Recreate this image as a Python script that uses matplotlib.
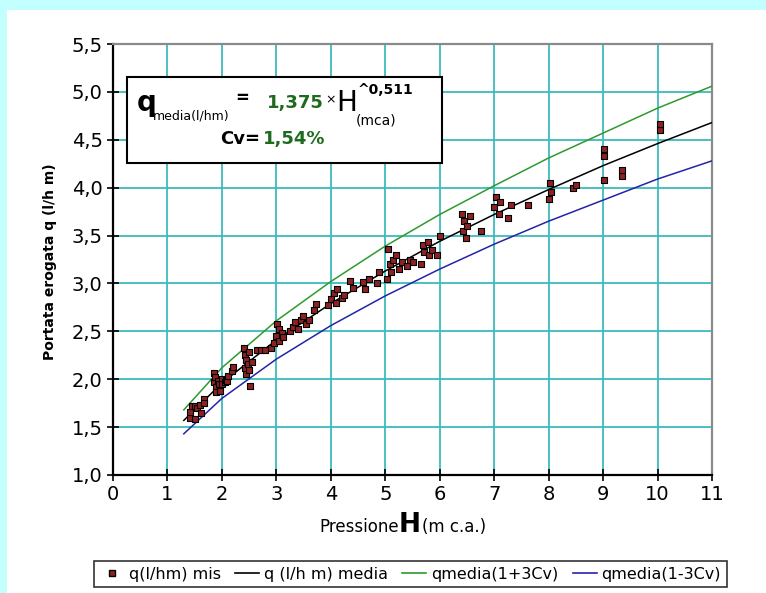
import matplotlib
matplotlib.use("Agg")
import matplotlib.pyplot as plt
from matplotlib.patches import Rectangle
from matplotlib.lines import Line2D

plt.rcParams['font.family'] = ['DejaVu Sans']

# measured points: pressure H (m c.a.) and flow q (l/h m)
H_mis = [1.42, 1.42, 1.45, 1.50, 1.50, 1.55, 1.60, 1.62, 1.67, 1.68,
         1.85, 1.85, 1.87, 1.90, 1.90, 1.92, 1.95, 1.97, 2.00, 2.00, 2.05, 2.07, 2.10, 2.12, 2.18, 2.20,
         2.40, 2.42, 2.42, 2.45, 2.45, 2.48, 2.50, 2.50, 2.52, 2.55,
         2.65, 2.72, 2.80, 2.90, 2.95, 3.00, 3.02, 3.05, 3.05, 3.10, 3.12,
         3.25, 3.30, 3.35, 3.40, 3.45, 3.48, 3.55, 3.60, 3.70, 3.72,
         3.95, 4.00, 4.05, 4.10, 4.12, 4.20, 4.25, 4.35, 4.40, 4.60, 4.62, 4.70, 4.85, 4.88,
         5.03, 5.05, 5.08, 5.10, 5.15, 5.20, 5.25, 5.30, 5.40, 5.45, 5.50,
         5.65, 5.70, 5.72, 5.78, 5.80, 5.85, 5.95, 6.00,
         6.40, 6.42, 6.45, 6.48, 6.50, 6.55, 6.75,
         7.00, 7.03, 7.08, 7.10, 7.25, 7.30, 7.62,
         8.00, 8.02, 8.05, 8.45, 8.50,
         9.02, 9.02, 9.02, 9.35, 9.35, 10.05, 10.05]
q_mis = [1.60, 1.66, 1.72, 1.58, 1.72, 1.70, 1.73, 1.65, 1.79, 1.75,
         2.07, 1.97, 2.02, 1.92, 1.87, 1.98, 1.95, 1.88, 2.00, 1.95, 1.97, 1.99, 1.98, 2.03, 2.09, 2.13,
         2.33, 2.25, 2.12, 2.20, 2.05, 2.16, 2.28, 2.10, 1.93, 2.18,
         2.30, 2.30, 2.31, 2.33, 2.38, 2.45, 2.58, 2.52, 2.40, 2.48, 2.44,
         2.50, 2.55, 2.60, 2.52, 2.62, 2.66, 2.58, 2.62, 2.72, 2.79,
         2.78, 2.84, 2.90, 2.80, 2.94, 2.85, 2.88, 3.03, 2.95, 3.02, 2.94, 3.05, 3.00, 3.12,
         3.05, 3.36, 3.20, 3.12, 3.25, 3.30, 3.15, 3.22, 3.18, 3.25, 3.22,
         3.20, 3.40, 3.33, 3.43, 3.30, 3.35, 3.30, 3.50,
         3.72, 3.55, 3.65, 3.47, 3.60, 3.70, 3.55,
         3.80, 3.90, 3.72, 3.85, 3.68, 3.82, 3.82,
         3.88, 4.05, 3.95, 4.00, 4.03,
         4.33, 4.40, 4.08, 4.12, 4.18, 4.60, 4.66]

# curves
H_curve = [1.3, 2, 3, 4, 5, 6, 7, 8, 9, 10, 11]
q_media = [1.57, 1.96, 2.41, 2.79, 3.13, 3.44, 3.72, 3.98, 4.23, 4.46, 4.68]
q_plus = [1.68, 2.12, 2.61, 3.02, 3.39, 3.72, 4.02, 4.31, 4.57, 4.83, 5.06]
q_minus = [1.43, 1.80, 2.21, 2.56, 2.87, 3.15, 3.41, 3.65, 3.87, 4.09, 4.28]

x_ticks = list(range(0, 12))
y_ticks = [1.0, 1.5, 2.0, 2.5, 3.0, 3.5, 4.0, 4.5, 5.0, 5.5]
y_tick_labels = ['1,0', '1,5', '2,0', '2,5', '3,0', '3,5', '4,0', '4,5', '5,0', '5,5']

W, Hpx = 766, 593
fig = plt.figure(figsize=(W / 100, Hpx / 100), dpi=100)
fig.patch.set_facecolor('#c4ffff')
fig.patches.append(Rectangle((7 / W, 0), 1, 1 - 10 / Hpx, transform=fig.transFigure,
                             facecolor='white', edgecolor='none', zorder=-5))


def fx(px):
    return px / W


def fy(py):
    return 1 - py / Hpx


ax = fig.add_axes([fx(113), fy(475), fx(712) - fx(113), fy(44) - fy(475)])
ax.set_facecolor('white')

ax.plot(H_curve, q_plus, color='#2e9a2e', lw=1.1, zorder=3)
ax.plot(H_curve, q_minus, color='#2424a8', lw=1.1, zorder=3)
ax.plot(H_curve, q_media, color='black', lw=1.1, zorder=3)
ax.scatter(H_mis, q_mis, marker='s', s=24, facecolor='#8e2222', edgecolor='black',
           linewidths=0.8, zorder=4)

ax.set_xlim(0, 11)
ax.set_ylim(1.0, 5.5)
ax.set_xticks(x_ticks)
ax.set_yticks(y_ticks)
ax.set_yticklabels(y_tick_labels)
ax.grid(True, color='#3cbcbc', lw=1.3, zorder=1)
ax.set_axisbelow(True)
ax.tick_params(direction='inout', length=9, width=1.2, labelsize=14, pad=3)
for s in ['left', 'bottom']:
    ax.spines[s].set_color('black')
    ax.spines[s].set_linewidth(1.6)
for s in ['top', 'right']:
    ax.spines[s].set_color('#8a8a8a')
    ax.spines[s].set_linewidth(1.6)

fig.text(fx(50), fy(262), 'Portata erogata q (l/h m)', rotation=90, fontsize=10,
         fontweight='bold', ha='center', va='center')

# x label with a bigger H
fig.text(fx(399), fy(527), 'Pressione', fontsize=12, ha='right', va='center')
fig.text(fx(410), fy(525), 'H', fontsize=19, fontweight='bold', ha='center', va='center')
fig.text(fx(422), fy(527), '(m c.a.)', fontsize=12, ha='left', va='center')

# equation box
box = Rectangle((fx(127), fy(163)), fx(442) - fx(127), fy(77) - fy(163), transform=fig.transFigure,
                facecolor='white', edgecolor='black', lw=1.5, zorder=5)
fig.patches.append(box)
dark_green = '#1e6a1e'
fig.text(fx(137), fy(103), 'q', fontsize=20, fontweight='bold', va='center', zorder=6)
fig.text(fx(153), fy(116), 'media(l/hm)', fontsize=9, va='center', zorder=6)
fig.text(fx(235), fy(98), '=', fontsize=12, fontweight='bold', va='center', zorder=6)
fig.text(fx(267), fy(103), '1,375', fontsize=13, fontweight='bold', color=dark_green,
         va='center', zorder=6)
fig.text(fx(325), fy(100), '\u00d7', fontsize=9, va='center', zorder=6)
fig.text(fx(336), fy(103), 'H', fontsize=20, va='center', zorder=6)
fig.text(fx(358), fy(90), '^0,511', fontsize=10, fontweight='bold', va='center', zorder=6)
fig.text(fx(356), fy(121), '(mca)', fontsize=10, va='center', zorder=6)
fig.text(fx(260), fy(139), 'Cv=', fontsize=13, fontweight='bold', ha='right', va='center', zorder=6)
fig.text(fx(263), fy(139), '1,54%', fontsize=13, fontweight='bold', color=dark_green,
         va='center', zorder=6)

handles = [
    Line2D([], [], marker='s', ls='none', markersize=4.5, markerfacecolor='#8e2222',
           markeredgecolor='black'),
    Line2D([], [], color='black', lw=1.2),
    Line2D([], [], color='#2e9a2e', lw=1.2),
    Line2D([], [], color='#2424a8', lw=1.2),
]
labels = ['q(l/hm) mis', 'q (l/h m) media', 'qmedia(1+3Cv)', 'qmedia(1-3Cv)']
leg = fig.legend(handles, labels, loc='upper center', bbox_to_anchor=(fx(410.5), fy(561)),
                 ncol=4, fontsize=11.5, frameon=True, fancybox=False, handlelength=1.5,
                 handletextpad=0.3, columnspacing=0.9, borderpad=0.35, borderaxespad=0)
leg.get_frame().set_edgecolor('black')
leg.get_frame().set_linewidth(1.2)

fig.savefig('out.png', dpi=100, facecolor=fig.get_facecolor())
